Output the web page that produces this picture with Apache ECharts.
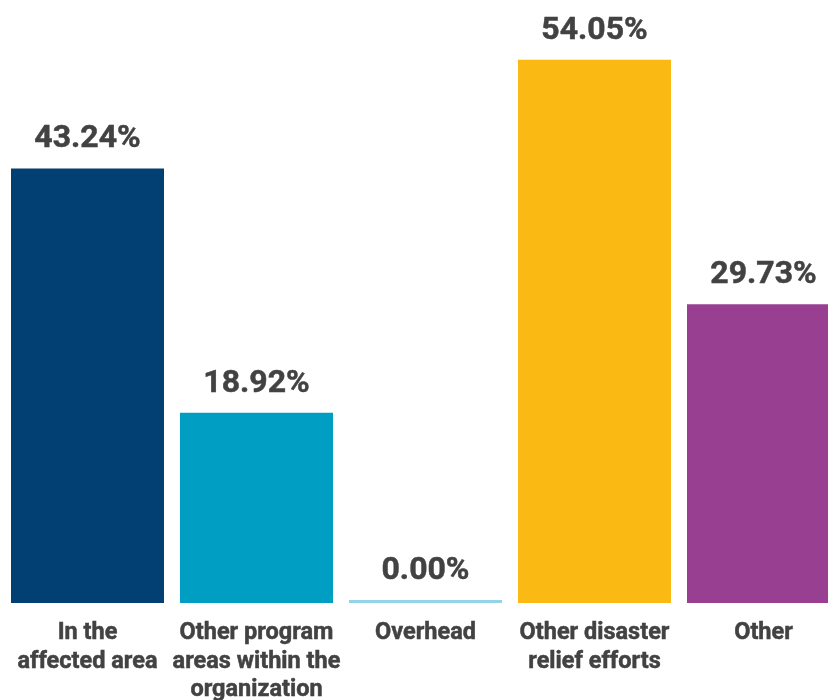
<!DOCTYPE html>
<html>
<head>
<meta charset="utf-8">
<script src="https://cdn.jsdelivr.net/npm/echarts@6/dist/echarts.min.js"></script>
<style>
  html, body { margin: 0; padding: 0; background: #fff; }
  #chart { width: 828px; height: 700px; overflow: hidden; }
</style>
</head>
<body>
<div id="chart"></div>
<script>
  const categories = [
    'In the\naffected area',
    'Other program\nareas within the\norganization',
    'Overhead',
    'Other disaster\nrelief efforts',
    'Other'
  ]
  const values = [43.24, 18.92, 0.00, 54.05, 29.73]
  const barColors = ['#023f73', '#009ec2', '#93d4e6', '#fbb914', '#993f92']

  const chart = echarts.init(document.getElementById('chart'))

  const option = {
    animation: false,
    grid: { left: 3, width: 845, top: 0, bottom: 97, outerBoundsMode: 'none' },
    xAxis: {
      type: 'category',
      data: categories,
      axisLine: { show: false },
      axisTick: { show: false },
      axisLabel: {
        interval: 0,
        margin: 16,
        color: '#424242',
        fontFamily: 'Roboto',
        fontWeight: 'bold',
        fontSize: 23.5,
        lineHeight: 28.5,
        textBorderColor: '#424242',
        textBorderWidth: 0.5
      }
    },
    yAxis: {
      type: 'value',
      min: 0,
      max: 60,
      show: false,
      splitLine: { show: false }
    },
    series: [
      {
        type: 'bar',
        data: values.map((v, i) => ({ value: v, itemStyle: { color: barColors[i] } })),
        barWidth: 153,
        barMinHeight: 3,
        label: {
          show: true,
          position: 'top',
          distance: 13,
          color: '#424242',
          fontFamily: 'Roboto',
          fontWeight: 'bold',
          fontSize: 32,
          textBorderColor: '#424242',
          textBorderWidth: 0.5,
          formatter: (p) => p.value.toFixed(2) + '%'
        }
      }
    ]
  }

  chart.setOption(option)
</script>
</body>
</html>
